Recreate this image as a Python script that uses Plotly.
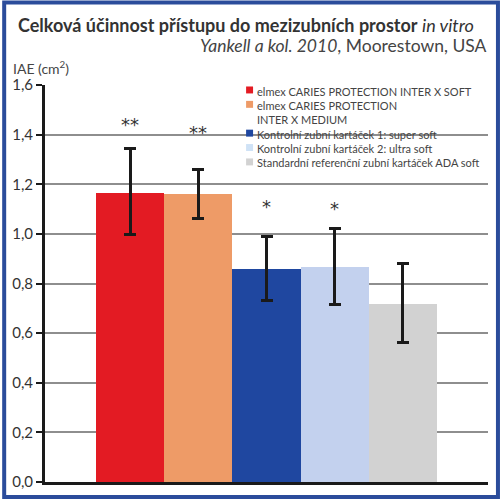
import plotly.graph_objects as go

categories = ["elmex CARIES PROTECTION INTER X SOFT",
              "elmex CARIES PROTECTION<br>INTER X MEDIUM",
              "Kontrolní zubní kartáček 1: super soft",
              "Kontrolní zubní kartáček 2: ultra soft",
              "Standardní referenční zubní kartáček ADA soft"]
values = [1.165, 1.16, 0.86, 0.867, 0.717]
err_plus = [0.178, 0.099, 0.131, 0.153, 0.162]
err_minus = [0.168, 0.099, 0.127, 0.151, 0.154]
stars = ["**", "**", "*", "*", ""]
star_y = [1.456, 1.424, 1.128, 1.12, None]
colors = ["#e31b23", "#ee9b67", "#1f47a0", "#c3d1ee", "#d2d2d2"]
legend_colors = ["#e31b23", "#ee9b67", "#1f47a0", "#cfe2f6", "#d2d2d2"]
yticks = [0.0, 0.2, 0.4, 0.6, 0.8, 1.0, 1.2, 1.4, 1.6]

FONT = "Lato"
L, R, T, B = 43, 13, 85, 17
W, H = 501, 502
pw, ph = W - L - R, H - T - B
def px(x):
    return (x - L) / pw
def py(y):
    return (H - B - y) / ph

fig = go.Figure()
for i, name in enumerate(categories):
    fig.add_trace(go.Bar(
        x=[i], y=[values[i]], width=1.0, marker_color=colors[i], marker_line_width=0,
        name=name.replace("<br>", " "),
        error_y=dict(type="data", symmetric=False, array=[err_plus[i]], arrayminus=[err_minus[i]],
                     color="#1a1a1a", thickness=3, width=6),
        showlegend=False, hoverinfo="skip"))

for i, s in enumerate(stars):
    if s:
        fig.add_annotation(x=i, y=star_y[i], text=s, showarrow=False, yanchor="middle", yshift=-4,
                           font=dict(family="DejaVu Sans", size=18, color="#333"))

# legend box (white, hides gridline behind) and entries
fig.add_shape(type="rect", xref="paper", yref="paper", x0=px(238), x1=px(487), y0=py(177), y1=py(84),
              fillcolor="white", line_width=0, layer="below")
row = 0
for i, name in enumerate(categories):
    yc = 90 + 14.5 * row
    fig.add_shape(type="rect", xref="paper", yref="paper", x0=px(245), x1=px(252),
                  y0=py(yc + 3.5), y1=py(yc - 3.5), fillcolor=legend_colors[i], line_width=0)
    fig.add_annotation(xref="paper", yref="paper", x=px(254), y=py(yc - 7.5), xanchor="left", yanchor="top",
                       text=name, align="left", showarrow=False,
                       font=dict(family=FONT, size=11, color="#444"))
    row += name.count("<br>") + 1

# frame
fig.add_shape(type="rect", xref="paper", yref="paper", x0=px(2), x1=px(498), y0=py(2), y1=py(500),
              line=dict(color="#2b4c9b", width=4), layer="above")

fig.add_annotation(xref="paper", yref="paper", x=px(14), y=py(25), xanchor="left", yanchor="middle",
                   text="<b>Celková účinnost přístupu do mezizubních prostor</b> <i>in vitro</i>",
                   showarrow=False, font=dict(family=FONT, size=18, color="#333"))
fig.add_annotation(xref="paper", yref="paper", x=px(489), y=py(45), xanchor="right", yanchor="middle",
                   text="<i>Yankell a kol. 2010</i>, Moorestown, USA",
                   showarrow=False, font=dict(family=FONT, size=17.5, color="#444"))
fig.add_annotation(xref="paper", yref="paper", x=px(9), y=py(67), xanchor="left", yanchor="middle",
                   text="IAE (cm<sup>2</sup>)",
                   showarrow=False, font=dict(family=FONT, size=14, color="#444"))

fig.update_layout(
    width=W, height=H, margin=dict(l=L, r=R, t=T, b=B),
    paper_bgcolor="white", plot_bgcolor="white", separators=",.",
    bargap=0, showlegend=False,
    xaxis=dict(range=[-1.25, 5.25], showticklabels=False, ticks="", showgrid=False,
               showline=True, linecolor="#1a1a1a", linewidth=3, zeroline=False, fixedrange=True),
    yaxis=dict(range=[0, 1.6], tickvals=yticks, tickformat=".1f", ticks="outside", ticklen=6,
               tickwidth=2, tickcolor="#1a1a1a", showline=True, linecolor="#1a1a1a", linewidth=3,
               showgrid=True, gridcolor="#8e8e8e", gridwidth=2, zeroline=False,
               tickfont=dict(family=FONT, size=15, color="#333")),
)
fig.write_html("out.html")
